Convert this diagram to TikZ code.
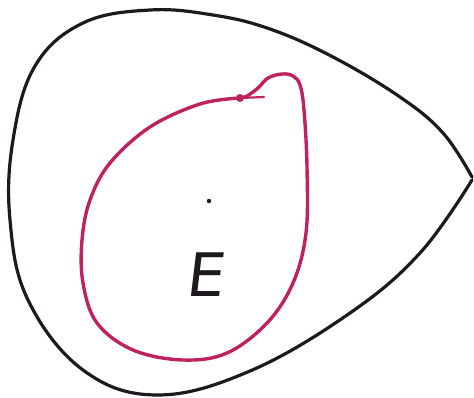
\documentclass[tikz,border=0pt]{standalone}
\usepackage{fontspec}
\newfontfamily\handfont{DejaVu Sans}
\definecolor{inkred}{RGB}{190,35,95}
\definecolor{inkblack}{RGB}{30,25,30}
\begin{document}
\begin{tikzpicture}[x=1pt,y=-1pt,
  outerline/.style={draw=inkblack,line width=3.2pt,line cap=round,line join=round},
  redline/.style={draw=inkred,line width=3.4pt,line cap=round,line join=round},
  lbl/.style={inner sep=0pt,text=inkblack}]
\useasboundingbox (0,0) rectangle (474,397);
% outer black region
\draw[outerline] plot[smooth,tension=0.65] coordinates {
 (472,177) (443,133) (400,97) (333,57) (270,29) (213,15) (150,10)
 (83,23) (35,66) (13,140) (10,220) (28,300) (83,370) (157,395)
 (250,371) (350,313) (420,253) (472,180)};
% red closed curve
\draw[redline] plot[smooth,tension=0.6] coordinates {
 (240,98) (200,104) (150,127) (110,163) (90,200) (82,240) (83,283) (97,323)
 (133,350) (183,360) (227,353) (267,323) (293,283) (306,233) (307,167)
 (304,110) (300,85) (293,76) (282,74) (268,78) (258,88) (247,96) (240,98)};
\coordinate (tailend) at (264,97);
\node[circle,fill=inkred,inner sep=0pt,minimum size=8pt] (p) at (240,98) {};
\draw[redline,line width=2.2pt] (p.center) -- (tailend);
% center point
\node[circle,fill=inkblack,inner sep=0pt,minimum size=4.5pt] (o) at (209,201) {};
% label
\node[lbl,font=\handfont\fontsize{60}{60}\selectfont,xslant=0.12] (E) at (207,275) {E};
\end{tikzpicture}
\end{document}
